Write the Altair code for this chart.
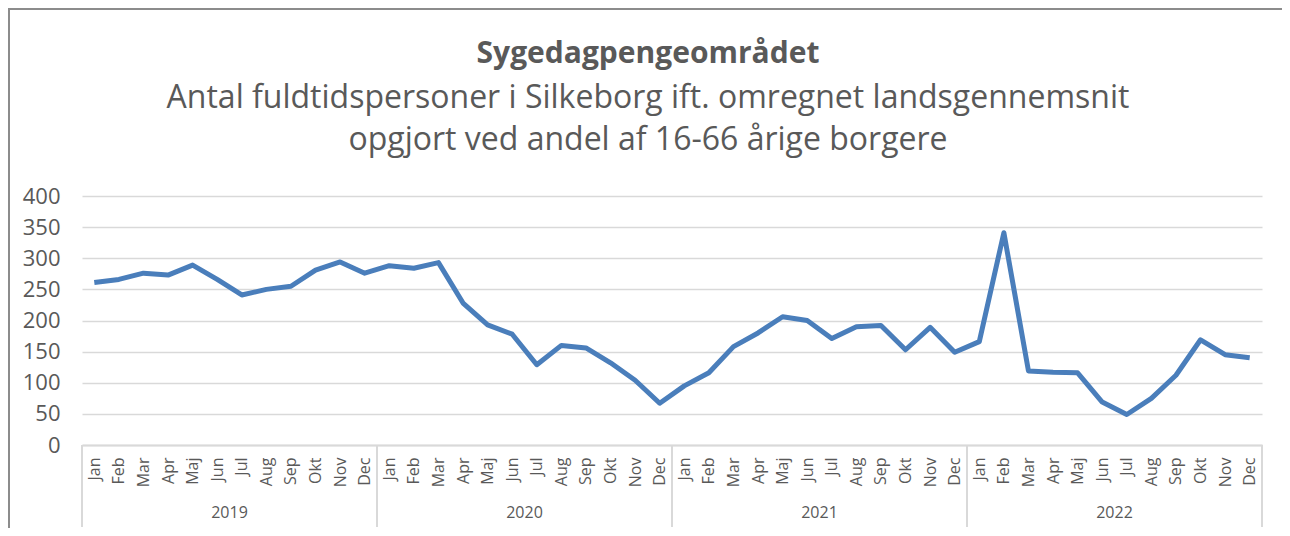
import altair as alt
import pandas as pd

months = ["Jan", "Feb", "Mar", "Apr", "Maj", "Jun", "Jul", "Aug", "Sep", "Okt", "Nov", "Dec"]
years = ["2019", "2020", "2021", "2022"]
values_2019 = [261, 266, 276, 273, 289, 266, 241, 250, 255, 281, 294, 276]
values_2020 = [288, 284, 293, 228, 193, 178, 129, 160, 156, 132, 104, 67]
values_2021 = [95, 116, 158, 180, 206, 200, 171, 190, 192, 153, 189, 149]
values_2022 = [166, 341, 119, 117, 116, 69, 49, 75, 112, 169, 145, 140]

title_text = "Sygedagpengeområdet"
subtitle_lines = ["Antal fuldtidspersoner i Silkeborg ift. omregnet landsgennemsnit",
                  "opgjort ved andel af 16-66 årige borgere"]

values = values_2019 + values_2020 + values_2021 + values_2022
df = pd.DataFrame({
    "idx": list(range(len(values))),
    "month": months * len(years),
    "year": [y for y in years for _ in months],
    "value": values,
})
year_df = pd.DataFrame({"year": years, "mid": [12 * i + 5.5 for i in range(len(years))]})
sep_df = pd.DataFrame({"pos": [12 * i - 0.5 for i in range(len(years) + 1)]})
one = pd.DataFrame({"k": [0]})

TXT = "#595959"
GRID = "#d9d9d9"
FRAME = "#8c8c8c"
FONT = "Open Sans"
W, H = 1180, 249
CX = 566  # horizontal centre of the title block, relative to plot left

label_expr = "[" + ",".join(f"'{m}'" for m in months) + "][datum.value % 12]"

qscale = alt.Scale(domain=[-0.5, len(values) - 0.5], nice=False, zero=False)

line = alt.Chart(df).mark_line(color="#4a7ebb", strokeWidth=5, strokeJoin="round").encode(
    x=alt.X("idx:O", scale=alt.Scale(paddingInner=0, paddingOuter=0),
            axis=alt.Axis(labelExpr=label_expr, labelAngle=-90,
                          labelFontSize=16, labelColor=TXT, labelFont=FONT, labelPadding=12,
                          ticks=False, grid=False, domainColor=GRID, domainWidth=2,
                          title=None, labelOverlap=False)),
    y=alt.Y("value:Q", scale=alt.Scale(domain=[0, 400], nice=False),
            axis=alt.Axis(values=list(range(0, 401, 50)), labelFontSize=22, labelColor=TXT,
                          labelFont=FONT, labelPadding=22, ticks=False, domain=False,
                          gridColor=GRID, gridWidth=1.5, title=None)),
)

seps = alt.Chart(sep_df).mark_rule(color=GRID, strokeWidth=2).encode(
    x=alt.X("pos:Q", scale=qscale, axis=None),
    y=alt.value(H),
    y2=alt.value(H + 82),
)

year_text = alt.Chart(year_df).mark_text(fontSize=16, color=TXT, font=FONT, baseline="middle").encode(
    x=alt.X("mid:Q", scale=qscale, axis=None),
    y=alt.value(H + 68),
    text="year:N",
)

frame_top = alt.Chart(one).mark_rule(color=FRAME, strokeWidth=2).encode(
    x=alt.value(-73), x2=alt.value(W + 40), y=alt.value(-187),
)
frame_left = alt.Chart(one).mark_rule(color=FRAME, strokeWidth=2).encode(
    x=alt.value(-73), y=alt.value(-188), y2=alt.value(H + 100),
)

t_main = alt.Chart(one).mark_text(text=title_text, font=FONT, fontSize=30, fontWeight="bold",
                                  color=TXT, align="center", baseline="alphabetic").encode(
    x=alt.value(CX), y=alt.value(-133))
t_sub1 = alt.Chart(one).mark_text(text=subtitle_lines[0], font=FONT, fontSize=32,
                                  color=TXT, align="center", baseline="alphabetic").encode(
    x=alt.value(CX), y=alt.value(-88))
t_sub2 = alt.Chart(one).mark_text(text=subtitle_lines[1], font=FONT, fontSize=32,
                                  color=TXT, align="center", baseline="alphabetic").encode(
    x=alt.value(CX), y=alt.value(-46))

chart = alt.layer(frame_top, frame_left, seps, line, year_text, t_main, t_sub1, t_sub2).resolve_scale(
    x="independent"
).properties(
    width=W, height=H,
    autosize=alt.AutoSizeParams(type="none"),
    padding={"left": 74, "top": 188, "right": 20, "bottom": 83},
).configure_view(stroke=None)

chart.save("out.html", embed_options={"renderer": "svg", "actions": False})
